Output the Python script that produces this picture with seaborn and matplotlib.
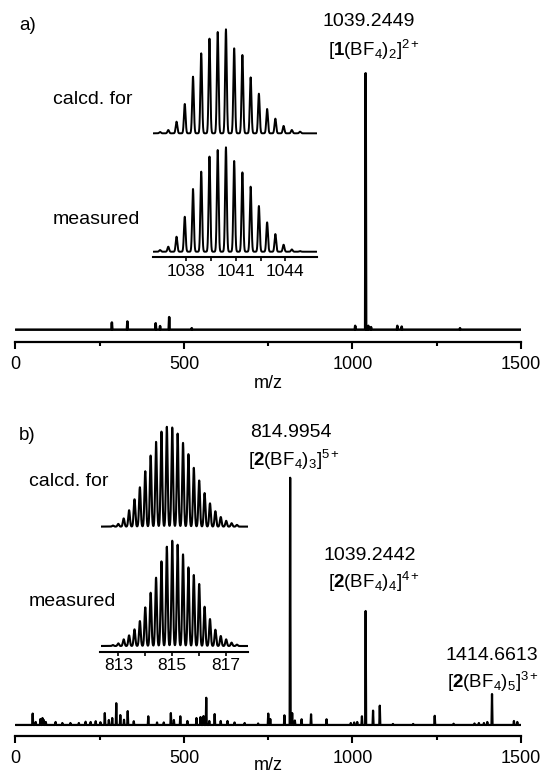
import numpy as np
import pandas as pd
import matplotlib
matplotlib.use("Agg")
import matplotlib.pyplot as plt
import seaborn as sns
from matplotlib.ticker import FixedLocator

sns.set_style("white")
plt.rcParams["font.family"] = ["Liberation Sans", "DejaVu Sans"]
plt.rcParams["mathtext.fontset"] = "custom"
plt.rcParams["mathtext.rm"] = "Liberation Sans"
plt.rcParams["mathtext.bf"] = "Liberation Sans:bold"
plt.rcParams["mathtext.it"] = "Liberation Sans:italic"

# ---------------- data ----------------
# panel a: full spectrum (m/z, relative intensity %)
a_mz = [286, 332, 416, 429, 456, 523, 1008, 1039, 1047, 1055, 1133, 1146, 1319]
a_int = [2.8, 3.2, 2.5, 1.4, 4.9, 0.6, 1.5, 100, 1.5, 1.0, 1.5, 1.2, 0.6]

# panel a insets: isotope pattern of [1(BF4)2]2+
a_iso_mz = [1036.4, 1036.9, 1037.4, 1037.9, 1038.4, 1038.9, 1039.4, 1039.9, 1040.4,
            1040.9, 1041.4, 1041.9, 1042.4, 1042.9, 1043.4, 1043.9, 1044.4, 1044.9]
a_calc = [1.3, 3.2, 11.2, 28.2, 54.5, 76.9, 91.0, 97.4, 100, 81.7, 75.3, 53.8,
          38.1, 23.4, 14.1, 7.1, 3.2, 1.6]
a_meas = [1.6, 4.8, 14.4, 33.5, 60.1, 76.7, 91.1, 97.4, 100, 86.9, 76.0, 62.3,
          43.8, 28.1, 16.9, 6.7, 2.2, 0.6]
a_inset_ticks = [1038, 1041, 1044]

# panel b: full spectrum
b_mz = [51, 60, 74, 80, 84, 90, 119, 139, 163, 188, 208, 223, 238, 252, 265, 277, 287,
        299, 311, 322, 333, 351, 394, 420, 440, 461, 470, 489, 510, 537, 549, 558, 566,
        575, 591, 609, 629, 650, 680, 720, 750, 756, 798, 815, 821, 829, 849, 877, 923,
        995, 1005, 1014, 1028, 1039, 1061, 1081, 1120, 1180, 1244, 1300, 1362, 1375,
        1390, 1400, 1414, 1479, 1489]
b_int = [4.6, 1.2, 2.4, 2.8, 2.0, 1.2, 1.2, 0.8, 0.8, 0.8, 1.3, 1.2, 1.5, 1.1, 4.8, 2.0,
         2.8, 8.8, 4.0, 2.1, 5.6, 1.5, 3.5, 1.0, 1.0, 4.8, 2.0, 3.5, 1.6, 2.8, 3.2, 3.6,
         11.0, 1.6, 4.4, 1.6, 1.6, 1.0, 0.8, 0.6, 4.6, 2.4, 3.9, 100, 4.8, 1.8, 2.3, 4.3,
         2.3, 0.8, 1.0, 1.2, 3.5, 46.1, 5.8, 7.8, 0.4, 0.4, 3.7, 0.5, 0.6, 0.8, 0.8, 1.2,
         12.5, 1.6, 1.2]

# panel b insets: isotope pattern of [2(BF4)3]5+
b_iso_mz = [812.8, 813.0, 813.2, 813.4, 813.6, 813.8, 814.0, 814.2, 814.4, 814.6, 814.8,
            815.0, 815.2, 815.4, 815.6, 815.8, 816.0, 816.2, 816.4, 816.6, 816.8, 817.0,
            817.2, 817.4]
b_calc = [1.0, 2.7, 8.2, 16.4, 27.4, 39.4, 55.5, 71.2, 84.9, 95.2, 100, 99.3, 93.2,
          83.9, 72.6, 58.9, 46.2, 33.6, 23.3, 15.4, 9.6, 5.8, 3.4, 1.7]
b_meas = [0.9, 2.5, 6.3, 10.1, 15.8, 23.7, 36.7, 50.6, 64.9, 80.4, 94.3, 100, 96.2,
          87.0, 74.7, 67.4, 58.9, 37.3, 25.6, 15.5, 9.5, 6.3, 3.2, 1.3]
b_inset_ticks = [813, 815, 817]

main_ticks = [0, 500, 1000, 1500]

# ---------------- helpers ----------------
W, H = 541, 775
fig = plt.figure(figsize=(W / 100, H / 100), dpi=100)
fig.patch.set_facecolor("white")


def add_ax(x0, x1, ytop, ybot):
    ax = fig.add_axes([x0 / W, 1 - ybot / H, (x1 - x0) / W, (ybot - ytop) / H])
    ax.set_facecolor("none")
    return ax


def stick_frame(mz, inten, lo, hi, w):
    xs, ys = [lo], [0.0]
    for m, h in sorted(zip(mz, inten)):
        xs += [m - w, m, m + w]
        ys += [0.0, h, 0.0]
    xs.append(hi)
    ys.append(0.0)
    return pd.DataFrame({"mz": xs, "intensity": ys})


def profile_frame(mz, inten, lo, hi, sigma):
    grid = np.linspace(lo, hi, 3000)
    y = np.zeros_like(grid)
    for m, h in zip(mz, inten):
        y += h * np.exp(-0.5 * ((grid - m) / sigma) ** 2)
    return pd.DataFrame({"mz": grid, "intensity": y})


def draw(ax, df, lw):
    sns.lineplot(data=df, x="mz", y="intensity", ax=ax, color="black",
                 linewidth=lw, estimator=None, sort=False)
    ax.set_xlabel("")
    ax.set_ylabel("")
    ax.set_yticks([])
    for s in ["top", "left", "right"]:
        ax.spines[s].set_visible(False)


def main_axis(ax, outward):
    ax.set_xlim(0, 1500)
    ax.spines["bottom"].set_position(("outward", outward))
    ax.spines["bottom"].set_linewidth(1.6)
    ax.spines["bottom"].set_color("black")
    ax.xaxis.set_major_locator(FixedLocator(main_ticks))
    ax.xaxis.set_minor_locator(FixedLocator([250, 750, 1250]))
    ax.tick_params(axis="x", which="major", direction="out", length=5, width=1.5,
                   labelsize=13, pad=5, bottom=True, colors="black")
    ax.tick_params(axis="x", which="minor", direction="out", length=3, width=1.5,
                   bottom=True, colors="black")


def inset_axis(ax, ticks, minor):
    ax.spines["bottom"].set_position(("outward", 2.5))
    ax.spines["bottom"].set_linewidth(1.5)
    ax.spines["bottom"].set_color("black")
    ax.xaxis.set_major_locator(FixedLocator(ticks))
    ax.xaxis.set_minor_locator(FixedLocator(minor))
    ax.tick_params(axis="x", which="major", direction="out", length=3, width=1.2,
                   labelsize=12.5, pad=1.5, bottom=True, colors="black")
    ax.tick_params(axis="x", which="minor", direction="out", length=3, width=1.2,
                   bottom=True, colors="black")


def no_axis(ax):
    ax.spines["bottom"].set_visible(False)
    ax.set_xticks([])


def ftext(x, y, s, size, ha="left", **kw):
    fig.text(x / W, 1 - y / H, s, fontsize=size, ha=ha, va="center", color="black", **kw)


# ---------------- panel a ----------------
ax_a = add_ax(15.5, 521, 9.2, 334.8)
draw(ax_a, stick_frame(a_mz, a_int, 0, 1500, 1.5), 1.8)
ax_a.set_ylim(-2, 125)
main_axis(ax_a, 5.0)

ax_ac = add_ax(153.3, 316.7, 27.2, 135.4)
draw(ax_ac, profile_frame(a_iso_mz, a_calc, 1035.99, 1045.91, 0.05), 1.4)
ax_ac.set_xlim(1035.99, 1045.91)
ax_ac.set_ylim(-2, 102)
no_axis(ax_ac)

ax_am = add_ax(153.3, 316.7, 145.2, 253.8)
draw(ax_am, profile_frame(a_iso_mz, a_meas, 1035.99, 1045.91, 0.05), 1.4)
ax_am.set_xlim(1035.99, 1045.91)
ax_am.set_ylim(-2, 102)
inset_axis(ax_am, a_inset_ticks, [1039.5, 1042.5])

ftext(19, 25, "a)", 13.5)
ftext(369, 21.7, "1039.2449", 14, ha="center")
ftext(374, 50, r"[$\mathbf{1}$(BF$_4$)$_2$]$^{2+}$", 13.5, ha="center")
ftext(53, 100, "calcd. for", 14)
ftext(53, 219, "measured", 14)
ftext(268, 384, "m/z", 13, ha="center")

# ---------------- panel b ----------------
ax_b = add_ax(15.5, 521, 416, 729.9)
draw(ax_b, stick_frame(b_mz, b_int, 0, 1500, 1.5), 1.6)
ax_b.set_ylim(-2, 125)
main_axis(ax_b, 4.2)

ax_bc = add_ax(100.5, 248, 424.8, 528.6)
draw(ax_bc, profile_frame(b_iso_mz, b_calc, 812.34, 817.81, 0.03), 1.5)
ax_bc.set_xlim(812.34, 817.81)
ax_bc.set_ylim(-2, 102)
no_axis(ax_bc)

ax_bm = add_ax(100.5, 248, 538.6, 648.1)
draw(ax_bm, profile_frame(b_iso_mz, b_meas, 812.34, 817.81, 0.03), 1.5)
ax_bm.set_xlim(812.34, 817.81)
ax_bm.set_ylim(-2, 102)
inset_axis(ax_bm, b_inset_ticks, [814, 816])

ftext(19, 435, "b)", 13.5)
ftext(290.6, 432.7, "814.9954", 14, ha="center")
ftext(294, 460, r"[$\mathbf{2}$(BF$_4$)$_3$]$^{5+}$", 13.5, ha="center")
ftext(29, 481, "calcd. for", 14)
ftext(370, 555, "1039.2442", 14, ha="center")
ftext(374, 582, r"[$\mathbf{2}$(BF$_4$)$_4$]$^{4+}$", 13.5, ha="center")
ftext(29, 602, "measured", 14)
ftext(538, 655, "1414.6613", 14, ha="right")
ftext(539, 682, r"[$\mathbf{2}$(BF$_4$)$_5$]$^{3+}$", 13.5, ha="right")
ftext(268, 765, "m/z", 13, ha="center")

fig.savefig("out.png", dpi=100, facecolor="white")
